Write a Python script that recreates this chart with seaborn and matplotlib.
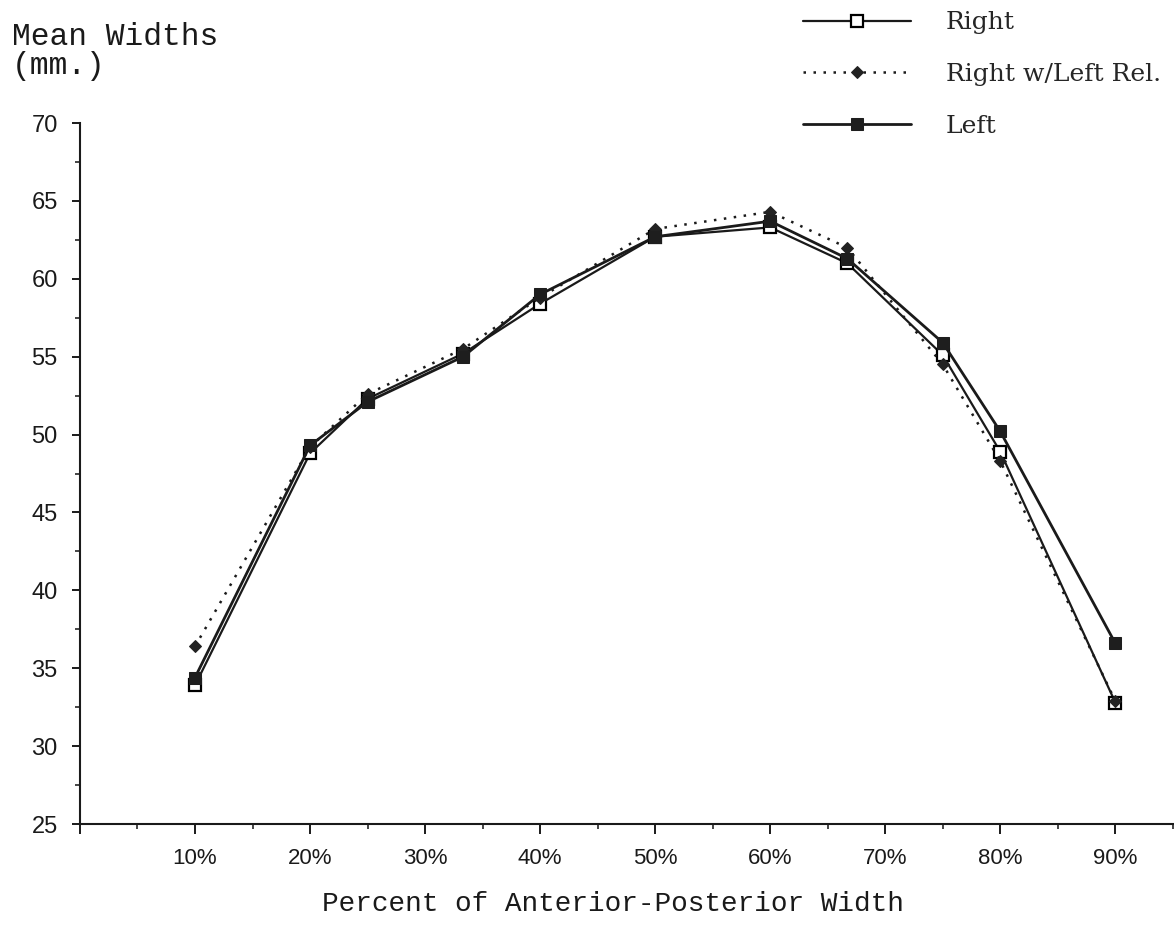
import numpy as np
import pandas as pd
import matplotlib
matplotlib.use("Agg")
import matplotlib.pyplot as plt
from matplotlib.ticker import FixedLocator, MultipleLocator, FuncFormatter
import seaborn as sns

# Positions along the anterior-posterior width (percent)
positions = [10, 20, 25, 33.3, 40, 50, 60, 66.7, 75, 80, 90]

# Mean widths (mm.) for each series
right = [33.9, 48.8, 52.3, 55.2, 58.4, 62.7, 63.3, 61.0, 55.1, 48.9, 32.8]
right_rel = [36.4, 49.2, 52.6, 55.5, 58.8, 63.2, 64.3, 62.0, 54.5, 48.3, 32.9]
left = [34.4, 49.3, 52.1, 55.0, 59.0, 62.7, 63.7, 61.3, 55.9, 50.2, 36.6]

series_names = ["Right", "Right w/Left Rel.", "Left"]
x_tick_values = [10, 20, 30, 40, 50, 60, 70, 80, 90]
y_tick_values = [25, 30, 35, 40, 45, 50, 55, 60, 65, 70]

sns.set_theme(style="ticks")
plt.rcParams["font.family"] = ["Liberation Sans", "DejaVu Sans"]

fig = plt.figure(figsize=(11.74, 9.35), dpi=100)
ax = fig.add_axes([0.0681, 0.1187, 0.9319, 0.7497])

df = pd.DataFrame({
    "pos": positions * 3,
    "width": right + right_rel + left,
    "series": np.repeat(series_names, len(positions)),
})

styles = {
    "Right": dict(linestyle="-", linewidth=1.6, marker="s", markersize=8.5,
                  markerfacecolor="white", markeredgecolor="black",
                  markeredgewidth=1.6, zorder=3),
    "Right w/Left Rel.": dict(linestyle=(0, (1, 3)), linewidth=1.8, marker="D",
                              markersize=6.5, markerfacecolor="#222222",
                              markeredgecolor="#222222", zorder=4),
    "Left": dict(linestyle="-", linewidth=2.0, marker="s", markersize=9,
                 markerfacecolor="#1e1e1e", markeredgecolor="#1e1e1e", zorder=5),
}

for name in series_names:
    sub = df[df["series"] == name]
    sns.lineplot(data=sub, x="pos", y="width", ax=ax, color="#1a1a1a",
                 sort=False, estimator=None, label=name, **styles[name])

ax.set_xlim(0, 95.1)
ax.set_ylim(25, 70)

ax.xaxis.set_major_locator(FixedLocator([0] + x_tick_values))
ax.xaxis.set_minor_locator(MultipleLocator(5))
ax.xaxis.set_major_formatter(FuncFormatter(lambda v, p: "" if v == 0 else f"{v:.0f}%"))
ax.yaxis.set_major_locator(FixedLocator(y_tick_values))
ax.yaxis.set_minor_locator(MultipleLocator(2.5))

for side in ["top", "right"]:
    ax.spines[side].set_visible(False)
for side in ["left", "bottom"]:
    ax.spines[side].set_linewidth(1.5)
    ax.spines[side].set_color("#1a1a1a")

ax.tick_params(axis="x", which="major", direction="out", length=7, width=1.4,
               pad=10, labelsize=16, colors="#1a1a1a")
ax.tick_params(axis="x", which="minor", direction="out", length=3.5, width=1.2)
ax.tick_params(axis="y", which="major", direction="out", length=6, width=1.4,
               pad=10, labelsize=17, colors="#1a1a1a")
ax.tick_params(axis="y", which="minor", direction="out", length=3.5, width=1.2)

ax.set_xlabel("")
ax.set_ylabel("")

mono = ["Liberation Mono", "DejaVu Sans Mono"]
fig.text(0.522, 0.026, "Percent of Anterior-Posterior Width", ha="center",
         va="baseline", fontsize=20, family=mono, color="#1a1a1a")
fig.text(0.010, 0.977, "Mean Widths\n(mm.)", ha="left", va="top",
         fontsize=22.5, family=mono, linespacing=0.98, color="#1a1a1a")

handles, labels = ax.get_legend_handles_labels()
if ax.legend_ is not None:
    ax.legend_.remove()
fig.legend(handles, labels, loc="upper left", bbox_to_anchor=(0.665, 1.012),
           frameon=False, handlelength=4.3, handletextpad=1.4,
           labelspacing=1.15, prop={"family": ["DejaVu Serif"], "size": 18})

fig.savefig("out.png", dpi=100, facecolor="white")
